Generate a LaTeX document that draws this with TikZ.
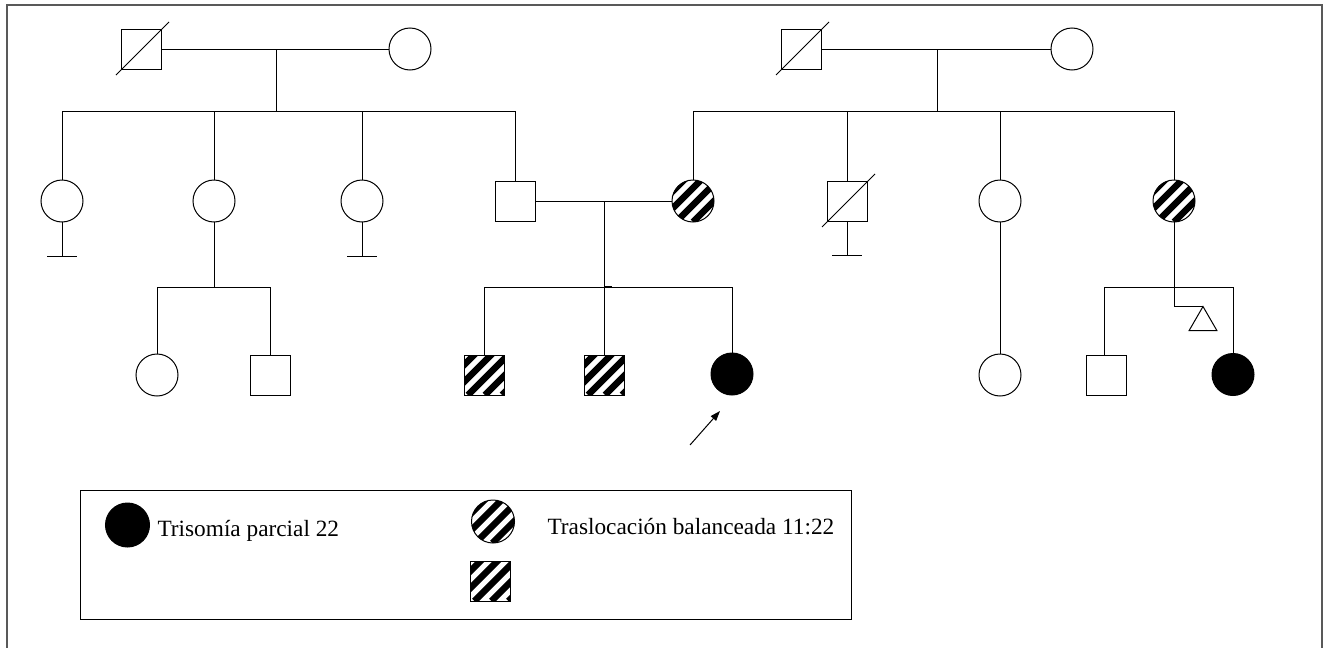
\documentclass[tikz,border=0pt]{standalone}
\usepackage{fontspec}
\setmainfont{Liberation Serif}
\usetikzlibrary{arrows.meta,shapes.geometric}
\begin{document}
\begin{tikzpicture}[x=1pt,y=-1pt, line width=1pt,
  male/.style={draw, rectangle, minimum size=40pt, inner sep=0pt, outer sep=0pt},
  female/.style={draw, circle, minimum size=42pt, inner sep=0pt, outer sep=0pt},
  affected/.style={fill=black},
  carrier/.style={path picture={\foreach \k in {-4,...,4} \draw[line width=6.5pt] ([xshift=\k*17pt+4pt]path picture bounding box.south west) -- ++(60pt,60pt);}},
  unknown/.style={draw, regular polygon, regular polygon sides=3, minimum size=32pt, inner sep=0pt, outer sep=0pt},
  frameline/.style={draw=black!65, line width=1.3pt},
  legtext/.style={font=\fontsize{23.3}{28}\selectfont, inner sep=0pt, anchor=base west},
  ptr/.style={-{Triangle[length=10pt,width=7pt]}}
]
\useasboundingbox (0,0) rectangle (1323,648);
% frame
\draw[frameline] (7,660) -- (7,5) -- (1322,5) -- (1322,660);

% ---------- left grandparents ----------
\node[male] (gf1) at (141,49) {};
\draw ([shift={(-5pt,-6pt)}]gf1.south west) -- ([shift={(8pt,7pt)}]gf1.north east);
\node[female] (gm1) at (410,49) {};
\draw (gf1.east) -- (gm1.west);
\coordinate (m1) at (276,49);
\coordinate (s1) at (276,111);
\draw (m1) -- (s1);

% children of left grandparents
\node[female] (a1) at (62,201) {};
\node[female] (a2) at (214,201) {};
\node[female] (a3) at (362,201) {};
\node[male] (father) at (515,201) {};
\draw (a1.north) -- (a1.north |- s1) -- (father.north |- s1) -- (father.north);
\draw (a2.north) -- (a2.north |- s1);
\draw (a3.north) -- (a3.north |- s1);
% no offspring bars
\draw (a1.south) -- ++(0,34) node[coordinate] (b1) {};
\draw ([xshift=-15pt]b1) -- ([xshift=15pt]b1);
\draw (a3.south) -- ++(0,34) node[coordinate] (b3) {};
\draw ([xshift=-15pt]b3) -- ([xshift=15pt]b3);

% grandchildren of a2
\coordinate (s2) at (214,287);
\node[female] (g1) at (157,375) {};
\node[male] (g2) at (270,375) {};
\draw (a2.south) -- (s2);
\draw (g1.north) -- (g1.north |- s2) -- (g2.north |- s2) -- (g2.north);

% ---------- right grandparents ----------
\node[male] (gf2) at (801,49) {};
\draw ([shift={(-5pt,-6pt)}]gf2.south west) -- ([shift={(8pt,7pt)}]gf2.north east);
\node[female] (gm2) at (1072,49) {};
\draw (gf2.east) -- (gm2.west);
\coordinate (m2) at (937,49);
\coordinate (s3) at (937,111);
\draw (m2) -- (s3);

\node[female, carrier] (mother) at (693,201) {};
\node[male] (d1) at (847,201) {};
\draw ([shift={(-5pt,-6pt)}]d1.south west) -- ([shift={(8pt,7pt)}]d1.north east);
\node[female] (r3) at (1000,201) {};
\node[female, carrier] (r4) at (1174,201) {};
\draw (mother.north) -- (mother.north |- s3) -- (r4.north |- s3) -- (r4.north);
\draw (d1.north) -- (d1.north |- s3);
\draw (r3.north) -- (r3.north |- s3);
\draw (d1.south) -- ++(0,34) node[coordinate] (b4) {};
\draw ([xshift=-15pt]b4) -- ([xshift=15pt]b4);

% ---------- nuclear family ----------
\draw (father.east) -- (mother.west);
\coordinate (m3) at (604,201);
\coordinate (s4) at (604,287);
\node[male, carrier] (k1) at (484,375) {};
\node[male, carrier] (k2) at (604,375) {};
\node[female, affected] (k3) at (732,374) {};
\draw (m3) -- (k2.north);
\draw (k1.north) -- (k1.north |- s4) -- (k3.north |- s4) -- (k3.north);
\draw[line width=2pt] (s4) -- ++(8,0);
% proband arrow
\coordinate (a0) at (690,445);
\coordinate (a1tip) at (720,411);
\draw[ptr] (a0) -- (a1tip);

% r3 descendant
\node[female] (r3c) at (1000,375) {};
\draw (r3.south) -- (r3c.north);

% r4 descendants
\coordinate (s5) at (1174,287);
\node[male] (q1) at (1106,375) {};
\node[unknown] (q2) at (1203,322.5) {};
\node[female, affected] (q3) at (1233,374.5) {};
\draw (r4.south) -- (s5);
\draw ([xshift=-2pt]q1.north) -- ([xshift=-2pt]q1.north |- s5) -- (q3.north |- s5) -- (q3.north);
\draw (s5) |- (q2.corner 1);

% ---------- legend ----------
\node[draw, rectangle, minimum width=771pt, minimum height=129pt, anchor=north west, inner sep=0pt] (legend) at (80,490) {};
\node[female, affected, minimum size=44pt] (L1) at (127.5,525) {};
\node[legtext] (L1t) at (157,536.7) {Trisomía parcial 22};
\node[female, carrier, minimum size=43pt] (L2) at (493,521.5) {};
\node[legtext] (L2t) at (547,534) {Traslocación balanceada 11:22};
\node[male, carrier] (L3) at (490.5,581) {};
\end{tikzpicture}
\end{document}
